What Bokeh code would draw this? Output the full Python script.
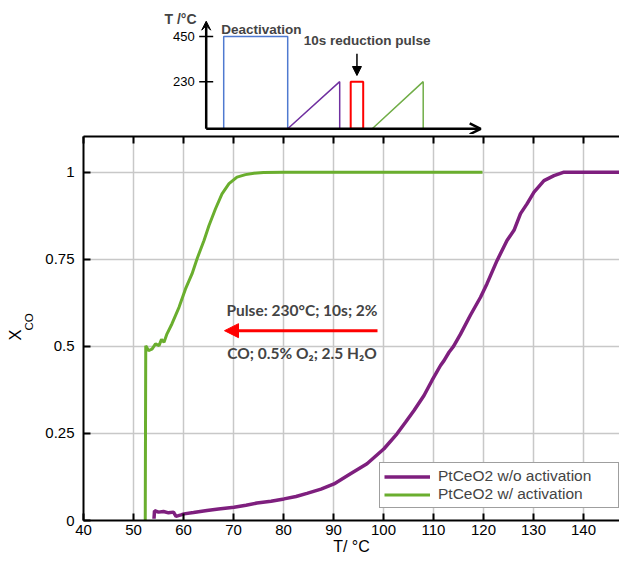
import math
from bokeh.plotting import figure
from bokeh.models import (FixedTicker, LinearAxis, Label, Arrow, VeeHead, OpenHead, NormalHead,
                          Range1d, CustomJSTickFormatter, Legend, LegendItem, Title)
from bokeh.layouts import column
from bokeh.embed import file_html
from bokeh.resources import INLINE
from bokeh.core.properties import value

# ---------------- main chart data ----------------
series_names = ["PtCeO2 w/o activation", "PtCeO2 w/ activation"]

green_T = [52.35, 52.45, 53.0, 53.7, 54.4, 55.1, 55.6, 56.1, 56.7, 57.7, 59.1, 60.4, 61.7,
           62.7, 64.1, 65.1, 66.4, 67.7, 69.1, 70.7, 72.4, 74.1, 76.0, 80.0, 90.0, 100.0,
           110.0, 119.8]
green_X = [0.0, 0.502, 0.488, 0.492, 0.507, 0.502, 0.52, 0.512, 0.536, 0.565, 0.612, 0.665,
           0.708, 0.751, 0.804, 0.847, 0.895, 0.938, 0.967, 0.986, 0.993, 0.997, 0.999, 1.0,
           1.0, 1.0, 1.0, 1.0]

purple_T = [54.1, 54.2, 55.0, 56.0, 57.0, 58.0, 58.5, 59.5, 60.1, 62.0, 64.7, 67.0, 70.1, 72.5,
            74.7, 77.5, 80.1, 82.5, 84.7, 87.5, 90.1, 93.4, 96.7, 100.1, 102.7, 104.4, 106.1,
            108.1, 109.7, 111.4, 112.1, 113.1, 114.0, 115.4, 117.4, 119.4, 120.7, 122.7, 124.7,
            126.1, 127.4, 128.7, 130.1, 132.1, 134.1, 136.1, 140.0, 147.2]
purple_X = [0.005, 0.028, 0.024, 0.026, 0.022, 0.024, 0.012, 0.016, 0.019, 0.023, 0.029, 0.033,
            0.038, 0.044, 0.050, 0.055, 0.062, 0.069, 0.078, 0.090, 0.105, 0.134, 0.163, 0.206,
            0.249, 0.282, 0.316, 0.359, 0.402, 0.445, 0.459, 0.483, 0.500, 0.535, 0.590, 0.641,
            0.680, 0.746, 0.804, 0.833, 0.881, 0.909, 0.943, 0.976, 0.990, 1.0, 1.0, 1.0]

x_ticks = [40, 50, 60, 70, 80, 90, 100, 110, 120, 130, 140]
y_ticks = [0, 0.25, 0.5, 0.75, 1]

# ---------------- inset schematic data (time, temperature) ----------------
deact_t = [3.5, 3.5, 16.3, 16.3]
deact_T = [0, 450, 450, 0]
ramp1_t = [16.3, 26.7, 26.7]
ramp1_T = [0, 230, 0]
pulse_t = [28.9, 28.9, 31.4, 31.4, 28.9]
pulse_T = [0, 230, 230, 0, 0]
ramp2_t = [33.2, 43.4, 43.4]
ramp2_T = [0, 230, 0]
inset_ticks = [230, 450]
inset_tick_labels = ["230", "450"]

FONT = "Liberation Sans"

# ---------------- inset figure ----------------
ins = figure(width=619, height=134, x_range=Range1d(-24.54, 82.66), y_range=Range1d(-27.8, 625.9),
             x_axis_type=None, y_axis_type=None, toolbar_location=None, output_backend="svg",
             min_border_left=83, min_border_right=0, min_border_top=0, min_border_bottom=0,
             title=None, outline_line_color=None)
ins.xgrid.visible = False
ins.ygrid.visible = False

ins.line(deact_t, deact_T, line_color="#4F7AD0", line_width=1.5)
ins.line(ramp1_t, ramp1_T, line_color="#7030A0", line_width=1.5)
ins.line(pulse_t, pulse_T, line_color="#FF0000", line_width=2)
ins.line(ramp2_t, ramp2_T, line_color="#70AD47", line_width=1.5)

ins.add_layout(Arrow(end=VeeHead(size=9, fill_color="black", line_color="black"),
                     x_start=0, y_start=0, x_end=0, y_end=525, line_width=2.5, line_color="black"))
ins.add_layout(Arrow(end=OpenHead(size=11, line_width=2.5, line_color="black"),
                     x_start=0, y_start=0, x_end=54.9, y_end=0, line_width=2.5, line_color="black"))
ins.segment(x0=[-1.4] * 2, y0=inset_ticks, x1=[1.4] * 2, y1=inset_ticks,
            line_color="black", line_width=1.5)
ins.text(x=[-2.3] * 2, y=inset_ticks, text=inset_tick_labels, text_align="right",
         text_baseline="middle", text_font=value(FONT), text_font_size="13px", text_color="black")

ins.add_layout(Label(x=-8.34, y=536.6, text="T /°C", text_align="left", text_baseline="middle",
                     text_font=FONT, text_font_style="bold", text_font_size="14px"))
ins.add_layout(Label(x=3.0, y=483, text="Deactivation", text_align="left", text_baseline="middle",
                     text_font=FONT, text_font_style="bold", text_font_size="13.5px"))
ins.add_layout(Label(x=19.5, y=430.7, text="10s reduction pulse", text_align="left",
                     text_baseline="middle", text_font=FONT, text_font_style="bold",
                     text_font_size="13.5px"))
ins.add_layout(Arrow(end=NormalHead(size=9, fill_color="black", line_color="black"),
                     x_start=30.15, y_start=366, x_end=30.15, y_end=260,
                     line_width=1.5, line_color="black"))

# ---------------- main figure ----------------
p = figure(width=619, height=427, x_range=Range1d(40, 147.2), y_range=Range1d(0, 1.1025),
           toolbar_location=None, output_backend="svg", title=None,
           min_border_left=83, min_border_right=0, min_border_top=2, min_border_bottom=41,
           outline_line_color=None)

p.xaxis.ticker = FixedTicker(ticks=x_ticks)
p.yaxis.ticker = FixedTicker(ticks=y_ticks)
p.yaxis.formatter = CustomJSTickFormatter(code="return String(Math.round(tick*100)/100);")
for ax in [p.xaxis[0], p.yaxis[0]]:
    ax.axis_line_width = 2
    ax.axis_line_color = "black"
    ax.major_tick_line_width = 2
    ax.major_tick_line_color = "black"
    ax.major_tick_in = 7
    ax.major_tick_out = 0
    ax.minor_tick_line_color = None
    ax.major_label_text_font = FONT
    ax.major_label_text_font_size = "15px"
    ax.major_label_text_color = "black"
p.xaxis.major_label_standoff = 4
p.yaxis.major_label_standoff = 9
# hidden (not drawn) y-axis label only widens the axis panel a little
p.yaxis.axis_label = "XCO"
p.yaxis.axis_label_text_color = None
p.yaxis.axis_label_text_font_size = "1px"
p.yaxis.axis_label_standoff = 5

p.xaxis.axis_label = "T/ °C"
p.xaxis.axis_label_text_font = FONT
p.xaxis.axis_label_text_font_size = "16px"
p.xaxis.axis_label_text_font_style = "normal"
p.xaxis.axis_label_text_color = "black"
p.xaxis.axis_label_standoff = 0

top_axis = LinearAxis(ticker=FixedTicker(ticks=x_ticks), major_label_text_font_size="0px",
                      major_label_text_color=None,
                      major_tick_in=7, major_tick_out=0, axis_line_width=2,
                      major_tick_line_width=2, major_label_standoff=0,
                      minor_tick_line_color=None, axis_line_color="black")
p.add_layout(top_axis, "above")

# y-axis title X_CO as two stacked side titles (subscript closer to the axis)
p.add_layout(Title(text="CO", align="left", offset=190, standoff=-2, text_font=FONT,
                   text_font_size="11.5px", text_font_style="normal", text_color="black"), "left")
p.add_layout(Title(text="X", align="left", offset=180, standoff=-4, text_font=FONT,
                   text_font_size="16.5px", text_font_style="normal", text_color="black"), "left")

p.xgrid.grid_line_color = "#c8c8c8"
p.ygrid.grid_line_color = "#c8c8c8"
p.xgrid.grid_line_width = 1.5
p.ygrid.grid_line_width = 1.5

r_p = p.line(purple_T, purple_X, line_color="#7E1F7E", line_width=3.5)
r_g = p.line(green_T, green_X, line_color="#6AAE2E", line_width=3)

legend = Legend(items=[LegendItem(label=series_names[0], renderers=[r_p]),
                       LegendItem(label=series_names[1], renderers=[r_g])],
                location=(296, 12), border_line_color="#404040", border_line_width=1,
                background_fill_alpha=1.0, padding=4, spacing=0, margin=0,
                glyph_width=46, glyph_height=17, label_height=17, label_width=176,
                label_standoff=8, label_text_font=FONT, label_text_font_size="15.5px")
p.add_layout(legend)

p.add_layout(Arrow(end=NormalHead(size=14, fill_color="red", line_color="red"),
                   x_start=98.8, y_start=0.545, x_end=68.2, y_end=0.545,
                   line_color="red", line_width=3))
p.add_layout(Label(x=83.7, y=0.603, text="Pulse: 230°C; 10s; 2%", text_align="center",
                   text_baseline="middle", text_font="Lato", text_font_style="bold",
                   text_font_size="15.5px"))
p.add_layout(Label(x=83.7, y=0.482, text="CO; 0.5% O₂; 2.5 H₂O", text_align="center",
                   text_baseline="middle", text_font="Lato", text_font_style="bold",
                   text_font_size="15.5px"))

layout = column(ins, p, spacing=0)
open("out.html", "w").write(file_html(layout, INLINE))
